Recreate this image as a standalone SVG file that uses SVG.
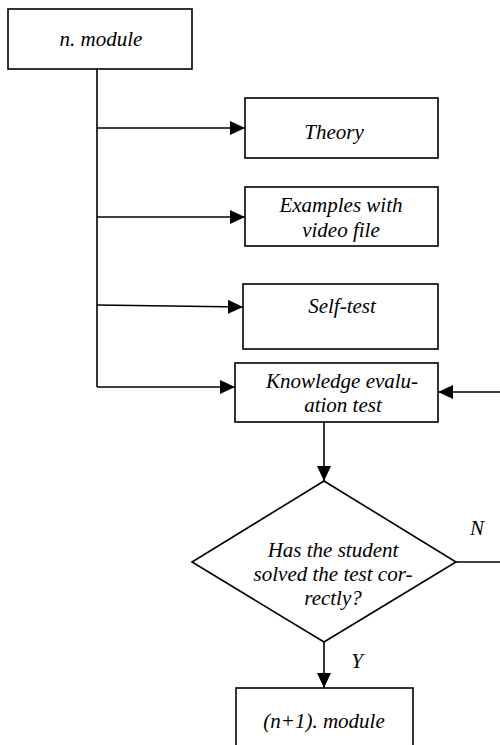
<svg xmlns="http://www.w3.org/2000/svg" width="500" height="745" viewBox="0 0 500 745">
<style>
.box{fill:#fff;stroke:#000;stroke-width:1.6}
.ln{fill:none;stroke:#000;stroke-width:1.6}
.t{font-family:'Liberation Serif','Times New Roman',serif;font-style:italic;font-size:21px;fill:#000;text-anchor:middle}
</style>
<defs>
<marker id="ah" viewBox="0 0 15 14" refX="15" refY="7" markerWidth="15" markerHeight="14" markerUnits="userSpaceOnUse" orient="auto">
<path d="M0,0 L15,7 L0,14 Z" fill="#000"/>
</marker>
</defs>
<rect width="500" height="745" fill="#fff"/>
<g id="connectors">
<path class="ln" d="M97,69 V387"/>
<path class="ln" d="M97,128 H245" marker-end="url(#ah)"/>
<path class="ln" d="M97,217 H245" marker-end="url(#ah)"/>
<path class="ln" d="M97,305 L243,307" marker-end="url(#ah)"/>
<path class="ln" d="M97,387 H235" marker-end="url(#ah)"/>
<path class="ln" d="M324,422 V481" marker-end="url(#ah)"/>
<path class="ln" d="M324,642 V688" marker-end="url(#ah)"/>
<path class="ln" d="M456,562 H501 V392 H438" marker-end="url(#ah)"/>
<text class="t" x="477" y="535">N</text>
<text class="t" x="357" y="668">Y</text>
</g>
<g id="n-module">
<rect class="box" x="8" y="9" width="184" height="60"/>
<text class="t" x="101" y="46">n. module</text>
</g>
<g id="theory">
<rect class="box" x="245" y="98" width="193" height="60"/>
<text class="t" x="334" y="139">Theory</text>
</g>
<g id="examples">
<rect class="box" x="245" y="187" width="193" height="59"/>
<text class="t" x="341" y="212">Examples with</text>
<text class="t" x="341" y="237">video file</text>
</g>
<g id="self-test">
<rect class="box" x="243" y="284" width="195" height="65"/>
<text class="t" x="342" y="313">Self-test</text>
</g>
<g id="knowledge-test">
<rect class="box" x="235" y="363" width="203" height="59"/>
<text class="t" x="342" y="388">Knowledge evalu-</text>
<text class="t" x="343" y="412">ation test</text>
</g>
<g id="decision">
<path class="box" d="M324,481 L456,562 L324,642 L192,562 Z"/>
<text class="t" x="333" y="557">Has the student</text>
<text class="t" x="333" y="581">solved the test cor-</text>
<text class="t" x="333" y="605">rectly?</text>
</g>
<g id="next-module">
<rect class="box" x="236" y="688" width="177" height="80"/>
<text class="t" x="324" y="728">(n+1). module</text>
</g>
</svg>
